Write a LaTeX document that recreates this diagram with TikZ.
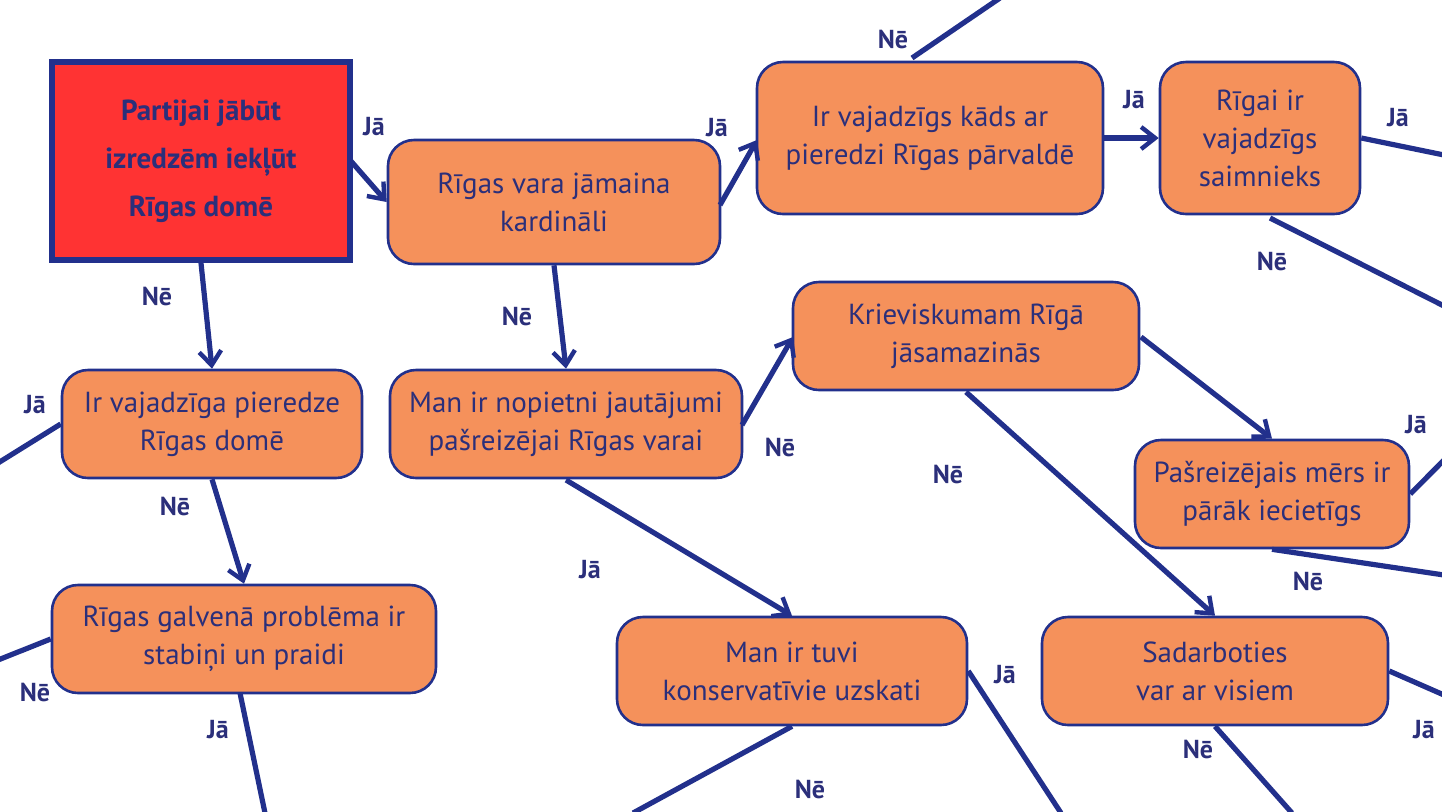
\documentclass[tikz,border=0pt]{standalone}
\usepackage{fontspec}
\setmainfont{PT Sans}
\usetikzlibrary{arrows.meta}
\definecolor{navy}{HTML}{22308C}
\definecolor{txt}{HTML}{2B2F7A}
\definecolor{box}{HTML}{F5915B}
\definecolor{redb}{HTML}{FF3333}
\tikzset{
 q/.style={draw=navy,line width=1.3pt,fill=box,rounded corners=13pt,align=center,text=txt,font=\fontsize{14.5}{19}\selectfont,inner sep=0pt},
 con/.style={draw=navy,line width=2.6pt},
 arr/.style={con,-{Straight Barb[length=7pt,width=11pt,line width=2.2pt]}},
 lab/.style={text=txt,font=\bfseries\fontsize{13}{15}\selectfont}
}
\begin{document}
\begin{tikzpicture}[x=0.5pt,y=-0.5pt]
\useasboundingbox (0,0) rectangle (1442,811);
\node[draw=navy,line width=3pt,fill=redb,minimum width=149pt,minimum height=99pt,align=center,text=txt,font=\bfseries\fontsize{14.5}{24}\selectfont] (R) at (201,161) {Partijai jābūt\\izredzēm iekļūt\\Rīgas domē};
\node[q,minimum width=166pt,minimum height=62pt] (A) at (554,202) {Rīgas vara jāmaina\\kardināli};
\node[q,minimum width=173pt,minimum height=76pt] (B) at (930,138) {Ir vajadzīgs kāds ar\\pieredzi Rīgas pārvaldē};
\node[q,minimum width=100pt,minimum height=76pt] (C) at (1260,138) {Rīgai ir\\vajadzīgs\\saimnieks};
\node[q,minimum width=150pt,minimum height=54pt] (D) at (212,424) {Ir vajadzīga pieredze\\Rīgas domē};
\node[q,minimum width=176pt,minimum height=54pt] (E) at (566,424) {Man ir nopietni jautājumi\\pašreizējai Rīgas varai};
\node[q,minimum width=173pt,minimum height=54pt] (F) at (966,336) {Krieviskumam Rīgā\\jāsamazinās};
\node[q,minimum width=137pt,minimum height=54pt] (G) at (1272,494) {Pašreizējais mērs ir\\pārāk iecietīgs};
\node[q,minimum width=192pt,minimum height=54pt] (H) at (244,639) {Rīgas galvenā problēma ir\\stabiņi un praidi};
\node[q,minimum width=175pt,minimum height=54pt] (I) at (792,671) {Man ir tuvi\\konservatīvie uzskati};
\node[q,minimum width=173pt,minimum height=54pt] (J) at (1215,671) {Sadarboties\\var ar visiem};
\coordinate (b1) at (1000,-2);\coordinate (c1) at (1444,155);\coordinate (c2) at (1444,306);
\coordinate (d1) at (-2,463);\coordinate (g1) at (1444,460);\coordinate (g2) at (1444,575);
\coordinate (h1) at (-2,660);\coordinate (h2) at (265,813);\coordinate (i1) at (1061,813);
\coordinate (i2) at (633,813);\coordinate (j1) at (1444,695);\coordinate (j2) at (1292,813);
\draw[arr] (350,160) -- (A.west);
\draw[arr] (R.south) -- (D.north);
\draw[arr] (720,205) -- (757,140);
\draw[arr] (A.south) -- (E.north);
\draw[arr] (B.east) -- (C.west);
\draw[con] (912,58) -- (b1);
\draw[con] (C.east) -- (c1);
\draw[con] (1270,218) -- (c2);
\draw[con] (D.west) -- (d1);
\draw[arr] (D.south) -- (H.north);
\draw[arr] (742,425) -- (793,337);
\draw[arr] (566,480) -- (I.north);
\draw[arr] (1141,337) -- (G.north);
\draw[arr] (966,392) -- (J.north);
\draw[con] (G.east) -- (g1);
\draw[con] (G.south) -- (g2);
\draw[con] (H.west) -- (h1);
\draw[con] (240,693) -- (h2);
\draw[con] (I.east) -- (i1);
\draw[con] (I.south) -- (i2);
\draw[con] (J.east) -- (j1);
\draw[con] (J.south) -- (j2);
\foreach \p/\t in {{374,127}/Jā,{157,297}/Nē,{717,128}/Jā,{517,317}/Nē,{1134,100}/Jā,{893,40}/Nē,{1398,118}/Jā,{1272,262}/Nē,{35,405}/Jā,{175,507}/Nē,{780,448}/Nē,{590,570}/Jā,{948,475}/Nē,{1416,425}/Jā,{1308,582}/Nē,{35,693}/Nē,{218,730}/Jā,{1005,675}/Jā,{810,790}/Nē,{1424,730}/Jā,{1198,750}/Nē}
  \node[lab] at (\p) {\t};
\end{tikzpicture}
\end{document}
